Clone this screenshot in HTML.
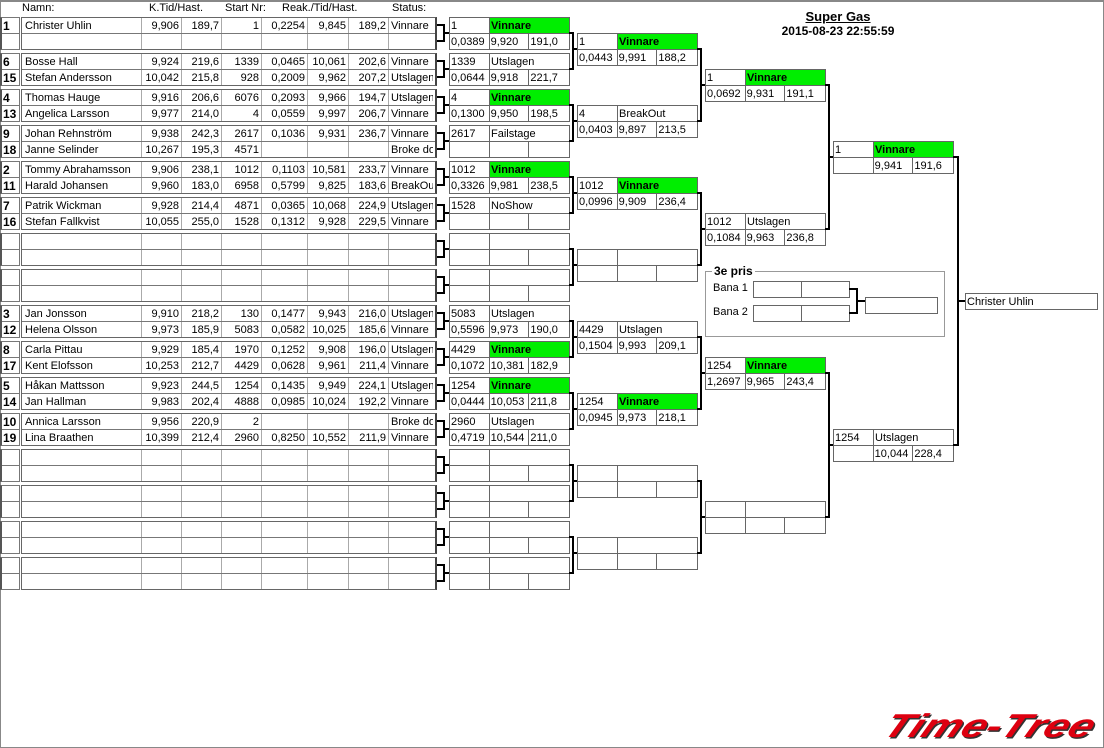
<!DOCTYPE html>
<html><head><meta charset="utf-8"><style>
*{box-sizing:border-box;margin:0;padding:0}
body{width:1104px;height:748px;position:relative;background:#fff;font-family:"Liberation Sans",Arial,sans-serif;font-size:11px;color:#000;overflow:hidden}
.frame{position:absolute;left:0;top:0;width:1104px;height:748px;border:1px solid #888;border-top-width:2px}
.h{position:absolute;top:2px;line-height:12px}
.n{position:absolute;left:0;width:20px;height:33px;border:1px solid #777;border-left:2px solid #555;font-weight:bold;font-size:12px}
.n div{height:16px;line-height:16px;padding-left:1px}
.n div:first-child{border-bottom:1px solid #777}
.t{position:absolute;left:21px;width:416px;height:33px;border:1px solid #666;border-right:2px solid #444}
.r{display:flex;height:15px;line-height:16px;white-space:nowrap}
.r+.r{border-top:1px solid #777}
.r span{display:block;overflow:hidden;height:15px;border-right:1px solid #aaa;padding:0 2px;text-align:right}
.r span:last-child{border-right:none}
.t .r span:nth-child(1){width:120px;text-align:left;padding-left:3px}
.t .r span:nth-child(2),.t .r span:nth-child(3),.t .r span:nth-child(4),.t .r span:nth-child(7){width:40px}
.t .r span:nth-child(5){width:46px}
.t .r span:nth-child(6){width:41px}
.t .r span:nth-child(8){width:44px;text-align:left;padding-left:2px}
.b{position:absolute;width:121px;height:33px;border:1px solid #666}
.b .r span{text-align:left;padding:0 1px;border-right:1px solid #666;width:40px}
.b .r span:last-child{border-right:none}
.b .r+.r{border-top:1px solid #666}
.b .r:first-child span:nth-child(2){width:79px}
.g{background:#00ee00;font-weight:bold}
svg{position:absolute;left:0;top:0}
</style></head><body>
<div class="frame"></div>
<div class="h" style="left:22px">Namn:</div>
<div class="h" style="left:149px">K.Tid/Hast.</div>
<div class="h" style="left:225px">Start Nr:</div>
<div class="h" style="left:282px">Reak./Tid/Hast.</div>
<div class="h" style="left:392px">Status:</div>

<div style="position:absolute;left:738px;top:10px;width:200px;text-align:center;font-weight:bold;font-size:13px;line-height:14px"><u>Super Gas</u></div>
<div style="position:absolute;left:738px;top:24px;width:200px;text-align:center;font-weight:bold;font-size:12px;line-height:14px">2015-08-23 22:55:59</div>

<!-- round 1 -->
<div class="n" style="top:17px"><div>1</div><div></div></div>
<div class="t" style="top:17px"><div class="r"><span>Christer Uhlin</span><span>9,906</span><span>189,7</span><span>1</span><span>0,2254</span><span>9,845</span><span>189,2</span><span>Vinnare</span></div><div class="r"><span></span><span></span><span></span><span></span><span></span><span></span><span></span><span></span></div></div>
<div class="n" style="top:53px"><div>6</div><div>15</div></div>
<div class="t" style="top:53px"><div class="r"><span>Bosse Hall</span><span>9,924</span><span>219,6</span><span>1339</span><span>0,0465</span><span>10,061</span><span>202,6</span><span>Vinnare</span></div><div class="r"><span>Stefan Andersson</span><span>10,042</span><span>215,8</span><span>928</span><span>0,2009</span><span>9,962</span><span>207,2</span><span>Utslagen</span></div></div>
<div class="n" style="top:89px"><div>4</div><div>13</div></div>
<div class="t" style="top:89px"><div class="r"><span>Thomas Hauge</span><span>9,916</span><span>206,6</span><span>6076</span><span>0,2093</span><span>9,966</span><span>194,7</span><span>Utslagen</span></div><div class="r"><span>Angelica Larsson</span><span>9,977</span><span>214,0</span><span>4</span><span>0,0559</span><span>9,997</span><span>206,7</span><span>Vinnare</span></div></div>
<div class="n" style="top:125px"><div>9</div><div>18</div></div>
<div class="t" style="top:125px"><div class="r"><span>Johan Rehnström</span><span>9,938</span><span>242,3</span><span>2617</span><span>0,1036</span><span>9,931</span><span>236,7</span><span>Vinnare</span></div><div class="r"><span>Janne Selinder</span><span>10,267</span><span>195,3</span><span>4571</span><span></span><span></span><span></span><span>Broke down</span></div></div>
<div class="n" style="top:161px"><div>2</div><div>11</div></div>
<div class="t" style="top:161px"><div class="r"><span>Tommy Abrahamsson</span><span>9,906</span><span>238,1</span><span>1012</span><span>0,1103</span><span>10,581</span><span>233,7</span><span>Vinnare</span></div><div class="r"><span>Harald Johansen</span><span>9,960</span><span>183,0</span><span>6958</span><span>0,5799</span><span>9,825</span><span>183,6</span><span>BreakOut</span></div></div>
<div class="n" style="top:197px"><div>7</div><div>16</div></div>
<div class="t" style="top:197px"><div class="r"><span>Patrik Wickman</span><span>9,928</span><span>214,4</span><span>4871</span><span>0,0365</span><span>10,068</span><span>224,9</span><span>Utslagen</span></div><div class="r"><span>Stefan Fallkvist</span><span>10,055</span><span>255,0</span><span>1528</span><span>0,1312</span><span>9,928</span><span>229,5</span><span>Vinnare</span></div></div>
<div class="n" style="top:233px"><div></div><div></div></div>
<div class="t" style="top:233px"><div class="r"><span></span><span></span><span></span><span></span><span></span><span></span><span></span><span></span></div><div class="r"><span></span><span></span><span></span><span></span><span></span><span></span><span></span><span></span></div></div>
<div class="n" style="top:269px"><div></div><div></div></div>
<div class="t" style="top:269px"><div class="r"><span></span><span></span><span></span><span></span><span></span><span></span><span></span><span></span></div><div class="r"><span></span><span></span><span></span><span></span><span></span><span></span><span></span><span></span></div></div>
<div class="n" style="top:305px"><div>3</div><div>12</div></div>
<div class="t" style="top:305px"><div class="r"><span>Jan Jonsson</span><span>9,910</span><span>218,2</span><span>130</span><span>0,1477</span><span>9,943</span><span>216,0</span><span>Utslagen</span></div><div class="r"><span>Helena Olsson</span><span>9,973</span><span>185,9</span><span>5083</span><span>0,0582</span><span>10,025</span><span>185,6</span><span>Vinnare</span></div></div>
<div class="n" style="top:341px"><div>8</div><div>17</div></div>
<div class="t" style="top:341px"><div class="r"><span>Carla Pittau</span><span>9,929</span><span>185,4</span><span>1970</span><span>0,1252</span><span>9,908</span><span>196,0</span><span>Utslagen</span></div><div class="r"><span>Kent Elofsson</span><span>10,253</span><span>212,7</span><span>4429</span><span>0,0628</span><span>9,961</span><span>211,4</span><span>Vinnare</span></div></div>
<div class="n" style="top:377px"><div>5</div><div>14</div></div>
<div class="t" style="top:377px"><div class="r"><span>Håkan Mattsson</span><span>9,923</span><span>244,5</span><span>1254</span><span>0,1435</span><span>9,949</span><span>224,1</span><span>Utslagen</span></div><div class="r"><span>Jan Hallman</span><span>9,983</span><span>202,4</span><span>4888</span><span>0,0985</span><span>10,024</span><span>192,2</span><span>Vinnare</span></div></div>
<div class="n" style="top:413px"><div>10</div><div>19</div></div>
<div class="t" style="top:413px"><div class="r"><span>Annica Larsson</span><span>9,956</span><span>220,9</span><span>2</span><span></span><span></span><span></span><span>Broke down</span></div><div class="r"><span>Lina Braathen</span><span>10,399</span><span>212,4</span><span>2960</span><span>0,8250</span><span>10,552</span><span>211,9</span><span>Vinnare</span></div></div>
<div class="n" style="top:449px"><div></div><div></div></div>
<div class="t" style="top:449px"><div class="r"><span></span><span></span><span></span><span></span><span></span><span></span><span></span><span></span></div><div class="r"><span></span><span></span><span></span><span></span><span></span><span></span><span></span><span></span></div></div>
<div class="n" style="top:485px"><div></div><div></div></div>
<div class="t" style="top:485px"><div class="r"><span></span><span></span><span></span><span></span><span></span><span></span><span></span><span></span></div><div class="r"><span></span><span></span><span></span><span></span><span></span><span></span><span></span><span></span></div></div>
<div class="n" style="top:521px"><div></div><div></div></div>
<div class="t" style="top:521px"><div class="r"><span></span><span></span><span></span><span></span><span></span><span></span><span></span><span></span></div><div class="r"><span></span><span></span><span></span><span></span><span></span><span></span><span></span><span></span></div></div>
<div class="n" style="top:557px"><div></div><div></div></div>
<div class="t" style="top:557px"><div class="r"><span></span><span></span><span></span><span></span><span></span><span></span><span></span><span></span></div><div class="r"><span></span><span></span><span></span><span></span><span></span><span></span><span></span><span></span></div></div>

<!-- round 2 -->
<div class="b" style="left:449px;top:17px"><div class="r"><span>1</span><span class="g">Vinnare</span></div><div class="r"><span>0,0389</span><span>9,920</span><span>191,0</span></div></div>
<div class="b" style="left:449px;top:53px"><div class="r"><span>1339</span><span>Utslagen</span></div><div class="r"><span>0,0644</span><span>9,918</span><span>221,7</span></div></div>
<div class="b" style="left:449px;top:89px"><div class="r"><span>4</span><span class="g">Vinnare</span></div><div class="r"><span>0,1300</span><span>9,950</span><span>198,5</span></div></div>
<div class="b" style="left:449px;top:125px"><div class="r"><span>2617</span><span>Failstage</span></div><div class="r"><span></span><span></span><span></span></div></div>
<div class="b" style="left:449px;top:161px"><div class="r"><span>1012</span><span class="g">Vinnare</span></div><div class="r"><span>0,3326</span><span>9,981</span><span>238,5</span></div></div>
<div class="b" style="left:449px;top:197px"><div class="r"><span>1528</span><span>NoShow</span></div><div class="r"><span></span><span></span><span></span></div></div>
<div class="b" style="left:449px;top:233px"><div class="r"><span></span><span></span></div><div class="r"><span></span><span></span><span></span></div></div>
<div class="b" style="left:449px;top:269px"><div class="r"><span></span><span></span></div><div class="r"><span></span><span></span><span></span></div></div>
<div class="b" style="left:449px;top:305px"><div class="r"><span>5083</span><span>Utslagen</span></div><div class="r"><span>0,5596</span><span>9,973</span><span>190,0</span></div></div>
<div class="b" style="left:449px;top:341px"><div class="r"><span>4429</span><span class="g">Vinnare</span></div><div class="r"><span>0,1072</span><span>10,381</span><span>182,9</span></div></div>
<div class="b" style="left:449px;top:377px"><div class="r"><span>1254</span><span class="g">Vinnare</span></div><div class="r"><span>0,0444</span><span>10,053</span><span>211,8</span></div></div>
<div class="b" style="left:449px;top:413px"><div class="r"><span>2960</span><span>Utslagen</span></div><div class="r"><span>0,4719</span><span>10,544</span><span>211,0</span></div></div>
<div class="b" style="left:449px;top:449px"><div class="r"><span></span><span></span></div><div class="r"><span></span><span></span><span></span></div></div>
<div class="b" style="left:449px;top:485px"><div class="r"><span></span><span></span></div><div class="r"><span></span><span></span><span></span></div></div>
<div class="b" style="left:449px;top:521px"><div class="r"><span></span><span></span></div><div class="r"><span></span><span></span><span></span></div></div>
<div class="b" style="left:449px;top:557px"><div class="r"><span></span><span></span></div><div class="r"><span></span><span></span><span></span></div></div>

<!-- round 3 -->
<div class="b" style="left:577px;top:33px"><div class="r"><span>1</span><span class="g">Vinnare</span></div><div class="r"><span>0,0443</span><span>9,991</span><span>188,2</span></div></div>
<div class="b" style="left:577px;top:105px"><div class="r"><span>4</span><span>BreakOut</span></div><div class="r"><span>0,0403</span><span>9,897</span><span>213,5</span></div></div>
<div class="b" style="left:577px;top:177px"><div class="r"><span>1012</span><span class="g">Vinnare</span></div><div class="r"><span>0,0996</span><span>9,909</span><span>236,4</span></div></div>
<div class="b" style="left:577px;top:249px"><div class="r"><span></span><span></span></div><div class="r"><span></span><span></span><span></span></div></div>
<div class="b" style="left:577px;top:321px"><div class="r"><span>4429</span><span>Utslagen</span></div><div class="r"><span>0,1504</span><span>9,993</span><span>209,1</span></div></div>
<div class="b" style="left:577px;top:393px"><div class="r"><span>1254</span><span class="g">Vinnare</span></div><div class="r"><span>0,0945</span><span>9,973</span><span>218,1</span></div></div>
<div class="b" style="left:577px;top:465px"><div class="r"><span></span><span></span></div><div class="r"><span></span><span></span><span></span></div></div>
<div class="b" style="left:577px;top:537px"><div class="r"><span></span><span></span></div><div class="r"><span></span><span></span><span></span></div></div>

<!-- round 4 -->
<div class="b" style="left:705px;top:69px"><div class="r"><span>1</span><span class="g">Vinnare</span></div><div class="r"><span>0,0692</span><span>9,931</span><span>191,1</span></div></div>
<div class="b" style="left:705px;top:213px"><div class="r"><span>1012</span><span>Utslagen</span></div><div class="r"><span>0,1084</span><span>9,963</span><span>236,8</span></div></div>
<div class="b" style="left:705px;top:357px"><div class="r"><span>1254</span><span class="g">Vinnare</span></div><div class="r"><span>1,2697</span><span>9,965</span><span>243,4</span></div></div>
<div class="b" style="left:705px;top:501px"><div class="r"><span></span><span></span></div><div class="r"><span></span><span></span><span></span></div></div>

<!-- round 5 -->
<div class="b" style="left:833px;top:141px"><div class="r"><span>1</span><span class="g">Vinnare</span></div><div class="r"><span></span><span>9,941</span><span>191,6</span></div></div>
<div class="b" style="left:833px;top:429px"><div class="r"><span>1254</span><span>Utslagen</span></div><div class="r"><span></span><span>10,044</span><span>228,4</span></div></div>

<!-- final -->
<div style="position:absolute;left:965px;top:293px;width:133px;height:17px;border:1px solid #666;line-height:16px;padding-left:1px">Christer Uhlin</div>

<!-- 3e pris -->
<div style="position:absolute;left:705px;top:271px;width:240px;height:66px;border:1px solid #999"></div>
<div style="position:absolute;left:712px;top:264px;padding:0 2px;background:#fff;font-weight:bold;font-size:12px;line-height:14px">3e pris</div>
<div style="position:absolute;left:713px;top:281px;line-height:15px">Bana 1</div>
<div style="position:absolute;left:713px;top:305px;line-height:15px">Bana 2</div>
<div style="position:absolute;left:753px;top:281px;width:97px;height:17px;border:1px solid #666"><div style="position:absolute;left:47px;top:0;width:1px;height:15px;background:#666"></div></div>
<div style="position:absolute;left:753px;top:305px;width:97px;height:17px;border:1px solid #666"><div style="position:absolute;left:47px;top:0;width:1px;height:15px;background:#666"></div></div>
<div style="position:absolute;left:865px;top:297px;width:73px;height:17px;border:1px solid #666"></div>

<svg width="1104" height="748" fill="none" stroke="#000" stroke-width="2">
<path d="M437 25H444V41H437M444 33H449M437 61H444V77H437M444 69H449M437 97H444V113H437M444 105H449M437 133H444V149H437M444 141H449M437 169H444V185H437M444 177H449M437 205H444V221H437M444 213H449M437 241H444V257H437M444 249H449M437 277H444V293H437M444 285H449M437 313H444V329H437M444 321H449M437 349H444V365H437M444 357H449M437 385H444V401H437M444 393H449M437 421H444V437H437M444 429H449M437 457H444V473H437M444 465H449M437 493H444V509H437M444 501H449M437 529H444V545H437M444 537H449M437 565H444V581H437M444 573H449"/>
<path d="M569 33H573V69H569M573 49H577M569 105H573V141H569M573 121H577M569 177H573V213H569M573 193H577M569 249H573V285H569M573 265H577M569 321H573V357H569M573 337H577M569 393H573V429H569M573 409H577M569 465H573V501H569M573 481H577M569 537H573V573H569M573 553H577"/>
<path d="M697 49H701V121H697M701 85H705M697 193H701V265H697M701 229H705M697 337H701V409H697M701 373H705M697 481H701V553H697M701 517H705"/>
<path d="M825 85H829V229H825M829 157H833M825 373H829V517H825M829 445H833"/>
<path d="M953 157H958V445H953M958 301H965"/>
<path d="M849 289H857V313H849M857 301H865"/>
</svg>

<div style="position:absolute;left:855px;top:700px;width:260px;text-align:center;font-family:'Liberation Sans',sans-serif;font-weight:bold;font-style:italic;font-size:44px;line-height:46px;color:#dd0010;letter-spacing:0;transform:skewX(-25deg) scaleY(0.75);transform-origin:50% 80%;text-shadow:2px 2px 0 #333">Time-Tree</div>
</body></html>
